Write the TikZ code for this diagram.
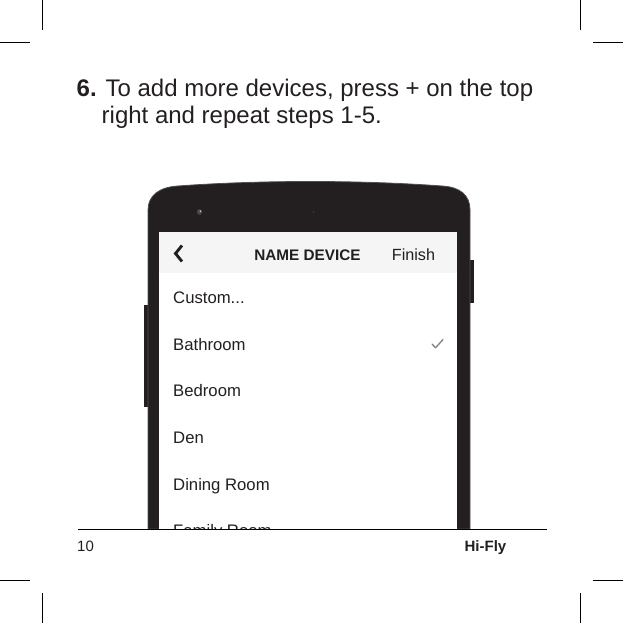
\documentclass[tikz,border=0pt]{standalone}
\usepackage{fontspec}
\setmainfont{Liberation Sans}
\definecolor{phonebody}{RGB}{35,31,32}
\definecolor{phonerim}{RGB}{80,78,78}
\definecolor{headbar}{RGB}{245,245,245}
\definecolor{inktext}{RGB}{35,31,32}
\tikzset{
  txt/.style={inner sep=0pt, anchor=base west, text=inktext},
  crop/.style={line width=0.9pt},
  item/.style={inner sep=0pt, anchor=base west, text=inktext, font=\fontsize{16.7}{18}\selectfont}
}
\begin{document}
\begin{tikzpicture}[x=1pt,y=-1pt]
      \useasboundingbox (0,0) rectangle (623,623);
      \draw[crop] (42.3,0) -- (42.3,30);
      \draw[crop] (580.7,0) -- (580.7,30);
      \draw[crop] (0,42.3) -- (30,42.3);
      \draw[crop] (593,42.3) -- (623,42.3);
      \draw[crop] (0,580.7) -- (30,580.7);
      \draw[crop] (593,580.7) -- (623,580.7);
      \draw[crop] (42.3,593) -- (42.3,623);
      \draw[crop] (580.7,593) -- (580.7,623);
      \node[txt, font=\fontsize{24}{24}\selectfont] (step) at (76.5,96) {\textbf{6.} To add more devices, press + on the top};
      \node[txt, font=\fontsize{24}{24}\selectfont] (steprest) at (101.5,124) {right and repeat steps 1-5.};
      \fill[phonebody] (143.5,305) rectangle (148.5,407);
      \fill[phonebody] (469.5,260) rectangle (474,303);
      \filldraw[fill=phonebody, draw=phonerim, line width=0.8pt] (148,529) -- (148,210) .. controls (148,195) and (160,187) .. (178,186) .. controls (260,180) and (360,180) .. (442,186) .. controls (460,187) and (470,195) .. (470,210) -- (470,529) -- cycle;
      \fill[gray!55!black] (199.5,212) circle (2.8);
      \fill[gray!20] (200.3,211.2) circle (0.8);
      \fill[gray!45!black] (313.5,212) circle (1);
      \fill[white] (159,232) rectangle (457,529);
      \fill[headbar] (159,232) rectangle (457,273);
      \draw[inktext, line width=2.9pt, line join=miter] (182,245.5) -- (175.5,253.5) -- (182,261.5);
      \node[inner sep=0pt, anchor=base, text=inktext, font=\bfseries\fontsize{15.3}{16}\selectfont] (title) at (307.5,260) {NAME DEVICE};
      \node[inner sep=0pt, anchor=base, text=inktext, font=\fontsize{16.2}{17}\selectfont] (finish) at (413.5,260) {Finish};
      \begin{scope}
        \clip (159,232) rectangle (457,529);
        \node[item] (custom) at (173,303.3) {Custom...};
        \foreach \nm/\lbl [count=\i] in {bathroom/Bathroom, bedroom/Bedroom, den/Den, dining/Dining Room, family/Family Room}
          \node[item] (\nm) at (173,303.3+46.7*\i) {\lbl};
      \end{scope}
      \draw[gray, line width=1.3pt, line cap=round, line join=round] (432,344) -- (435.5,347.8) -- (443,339.5);
      \draw[line width=1pt] (78,529.3) -- (547,529.3);
      \node[txt, font=\fontsize{15}{16}\selectfont] (page) at (77,551.5) {10};
      \node[inner sep=0pt, anchor=base east, text=inktext, font=\bfseries\fontsize{15}{16}\selectfont] (brand) at (506.5,551.5) {Hi-Fly};
    \end{tikzpicture}
\end{document}
